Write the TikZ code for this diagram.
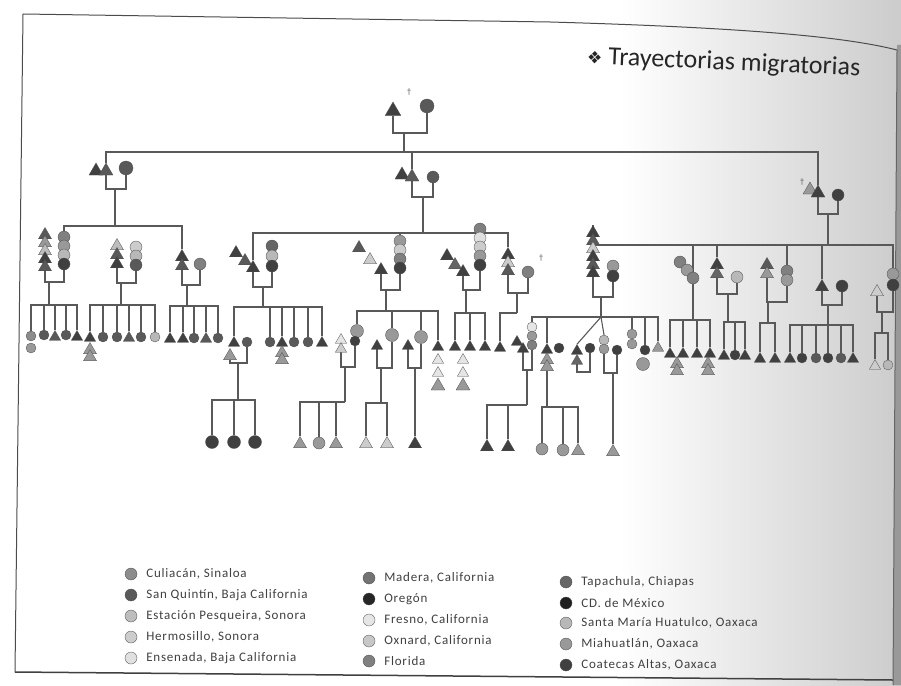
\documentclass[tikz,border=0pt]{standalone}
\usepackage{fontspec}
\setmainfont{Carlito}
\newfontfamily\symfont{DejaVu Sans}
\newfontfamily\keyfont[LetterSpace=6]{Carlito}
\usetikzlibrary{shapes.geometric,positioning,backgrounds}

% colores de los lugares (escala de grises)
\definecolor{cul}{gray}{0.55}
\definecolor{sqn}{gray}{0.35}
\definecolor{epq}{gray}{0.74}
\definecolor{her}{gray}{0.80}
\definecolor{ens}{gray}{0.88}
\definecolor{mad}{gray}{0.45}
\definecolor{ore}{gray}{0.15}
\definecolor{fre}{gray}{0.90}
\definecolor{oxn}{gray}{0.78}
\definecolor{flo}{gray}{0.50}
\definecolor{tap}{gray}{0.40}
\definecolor{cdm}{gray}{0.12}
\definecolor{smh}{gray}{0.72}
\definecolor{mia}{gray}{0.60}
\definecolor{coa}{gray}{0.25}

\tikzset{
  man/.style={regular polygon, regular polygon sides=3, inner sep=0pt, minimum size=13pt, draw=black!70, line width=0.3pt},
  woman/.style={circle, inner sep=0pt, minimum size=10pt, draw=black!70, line width=0.3pt},
  bigman/.style={man, minimum size=16pt},
  bigwoman/.style={woman, minimum size=12pt},
  link/.style={draw=black!65, line width=1.1pt},
  dagger/.style={font=\symfont\fontsize{8}{8}\selectfont, text=black!60, inner sep=0pt},
  key/.style={woman, minimum size=12pt},
  keytext/.style={font=\keyfont\fontsize{13}{15}\selectfont, text=black!75, inner sep=1pt},
}

\begin{document}
\begin{tikzpicture}[x=1pt, y=-1pt]
\useasboundingbox (0,0) rectangle (901,685);

% hoja y marco
\begin{scope}[on background layer]
\fill[white] (0,0) rectangle (901,685);
\shade[left color=white, right color=black!20] (620,0) rectangle (901,685);
\fill[black!40] (897,45) -- (901,45) -- (901,685) -- (893,685) -- cycle;
\draw[black!70, line width=1pt] (23,14) -- (550,22) .. controls (760,28) and (850,38) .. (897,50);
\draw[black!70, line width=1pt] (23,14) -- (15,672);
\draw[black!75, line width=1.5pt] (15,672) -- (893,680);
\draw[black!60, line width=1pt] (897,50) -- (893,685);
\end{scope}

% titulo
\node[font=\fontsize{26}{28}\selectfont, text=black!85, rotate=-2.5, anchor=west, inner sep=0pt] (title) at (587,57) {{\symfont\fontsize{17}{17}\selectfont ❖} Trayectorias migratorias};

% generacion 0
\node[bigman, fill=coa, minimum size=18pt] (g0m) at (393,111) {};
\node[bigwoman, fill=sqn, minimum size=14pt] (g0f) at (427,106) {};
\node[dagger] (g0d) at (409,92) {†};
\coordinate (m0) at (404,133);
\coordinate (s0) at (404,152);

% generacion 1
\node[bigman, fill=coa] (g1La) at (96,171) {};
\node[bigman, fill=sqn] (g1Lb) at (106,171) {};
\node[bigwoman, fill=sqn, minimum size=14pt] (g1Lf) at (126,168) {};
\coordinate (mL) at (115,189);
\coordinate (sL) at (115,226);

\node[bigman, fill=coa] (g1Ma) at (402,175) {};
\node[bigman, fill=sqn] (g1Mb) at (412,177) {};
\node[bigwoman, fill=sqn] (g1Mf) at (433,177) {};
\coordinate (mM) at (423,197);
\coordinate (sM) at (423,233);

\node[bigman, fill=mia] (g1Ra) at (810,190) {};
\node[bigman, fill=coa] (g1Rb) at (818,193) {};
\node[dagger] (g1Rd) at (802,182) {†};
\node[bigwoman, fill=coa] (g1Rf) at (838,195) {};
\coordinate (mR) at (828,214);
\coordinate (sR) at (828,245);

% familia L1
\node[man, minimum size=15pt, fill=sqn] (L1m1) at (45,235) {};
\node[man, minimum size=15pt, fill=mia] (L1m2) at (45,243) {};
\node[man, minimum size=15pt, fill=epq] (L1m3) at (45,251) {};
\node[man, minimum size=15pt, fill=coa] (L1m4) at (45,259) {};
\node[man, minimum size=15pt, fill=sqn] (L1m5) at (45,267) {};
\node[bigwoman, fill=flo] (L1f1) at (64,237) {};
\node[bigwoman, fill=mia] (L1f2) at (64,246) {};
\node[bigwoman, fill=smh] (L1f3) at (64,255) {};
\node[bigwoman, fill=coa] (L1f4) at (64,264) {};
\coordinate (mL1) at (49,282);
\coordinate (sL1) at (49,305);
\node[woman, fill=cul] (L1c1) at (31,336) {};
\node[woman, fill=mia] (L1c1b) at (31,348) {};
\node[woman, fill=sqn] (L1c2) at (44,335) {};
\node[man, fill=sqn] (L1c3) at (55,337) {};
\node[woman, fill=sqn] (L1c4) at (66,335) {};
\node[man, fill=coa] (L1c5) at (77,337) {};

% familia L2
\node[man, minimum size=15pt, fill=epq] (L2m1) at (117,246) {};
\node[man, minimum size=15pt, fill=sqn] (L2m2) at (117,255) {};
\node[man, minimum size=15pt, fill=coa] (L2m3) at (117,264) {};
\node[bigwoman, fill=her] (L2f1) at (136,247) {};
\node[bigwoman, fill=smh] (L2f2) at (136,256) {};
\node[bigwoman, fill=sqn] (L2f3) at (136,265) {};
\coordinate (mL2) at (121,283);
\coordinate (sL2) at (121,305);
\node[man, fill=coa] (L2c1) at (90,338) {};
\node[man, minimum size=15pt, fill=mia] (L2c1b) at (90,350) {};
\node[man, minimum size=15pt, fill=mia] (L2c1c) at (90,357) {};
\node[woman, fill=sqn] (L2c2) at (103,337) {};
\node[woman, fill=sqn] (L2c3) at (117,337) {};
\node[man, fill=sqn] (L2c4) at (129,338) {};
\node[woman, fill=sqn] (L2c5) at (141,337) {};
\node[woman, fill=smh] (L2c6) at (155,337) {};

% familia L3
\node[man, minimum size=15pt, fill=coa] (L3m1) at (182,257) {};
\node[man, minimum size=15pt, fill=sqn] (L3m2) at (182,266) {};
\node[bigwoman, fill=flo] (L3f) at (200,264) {};
\coordinate (mL3) at (187,285);
\coordinate (sL3) at (187,306);
\node[man, fill=coa] (L3c1) at (170,339) {};
\node[man, fill=coa] (L3c2) at (183,339) {};
\node[woman, fill=sqn] (L3c3) at (194,338) {};
\node[man, fill=sqn] (L3c4) at (206,339) {};
\node[woman, fill=sqn] (L3c5) at (218,338) {};

% familia M1
\node[man, minimum size=15pt, fill=coa] (M1m1) at (236,253) {};
\node[man, minimum size=15pt, fill=sqn] (M1m2) at (245,261) {};
\node[man, minimum size=15pt, fill=coa] (M1m3) at (253,268) {};
\node[bigwoman, fill=tap] (M1f1) at (272,246) {};
\node[bigwoman, fill=smh] (M1f2) at (272,256) {};
\node[bigwoman, fill=coa] (M1f3) at (272,266) {};
\coordinate (mM1) at (263,287);
\coordinate (sM1) at (263,307);
\node[man, fill=coa] (M1c1) at (234,343) {};
\node[man, minimum size=15pt, fill=mia] (M1c1b) at (230,356) {};
\node[woman, fill=sqn] (M1c2) at (247,342) {};
\node[woman, fill=sqn] (M1c3) at (270,342) {};
\node[man, fill=coa] (M1c4) at (282,343) {};
\node[man, minimum size=15pt, fill=mia] (M1c4b) at (282,353) {};
\node[man, minimum size=15pt, fill=mia] (M1c4c) at (282,360) {};
\node[woman, fill=sqn] (M1c5) at (294,342) {};
\node[woman, fill=sqn] (M1c6) at (308,342) {};
\node[man, fill=coa] (M1c7) at (322,343) {};
\coordinate (mM1c) at (238,363);
\coordinate (sM1c) at (238,400);
\node[woman, minimum size=13pt, fill=coa] (M1g1) at (212,442) {};
\node[woman, minimum size=13pt, fill=coa] (M1g2) at (234,442) {};
\node[woman, minimum size=13pt, fill=coa] (M1g3) at (255,442) {};

% familia M2
\node[man, minimum size=15pt, fill=sqn] (M2m1) at (359,248) {};
\node[man, minimum size=15pt, fill=her] (M2m2) at (370,260) {};
\node[man, minimum size=15pt, fill=coa] (M2m3) at (381,270) {};
\node[bigwoman, fill=mia] (M2f1) at (400,241) {};
\node[bigwoman, fill=her] (M2f2) at (400,250) {};
\node[bigwoman, fill=flo] (M2f3) at (400,259) {};
\node[bigwoman, fill=coa] (M2f4) at (400,268) {};
\coordinate (mM2) at (386,290);
\coordinate (sM2) at (386,311);
\node[man, fill=fre] (M2s1a) at (341,340) {};
\node[man, fill=her] (M2s1b) at (341,349) {};
\node[woman, minimum size=13pt, fill=mia] (M2c1a) at (357,331) {};
\node[woman, fill=coa] (M2c1b) at (355,341) {};
\coordinate (mM2c1) at (345,367);
\coordinate (sM2c1) at (345,402);
\node[man, minimum size=15pt, fill=mia] (M2g1) at (300,444) {};
\node[woman, minimum size=12pt, fill=mia] (M2g2) at (319,443) {};
\node[man, minimum size=15pt, fill=mia] (M2g3) at (336,444) {};
\node[man, fill=coa] (M2s2) at (377,346) {};
\node[woman, minimum size=13pt, fill=mia] (M2c2) at (392,335) {};
\coordinate (mM2c2) at (381,368);
\coordinate (sM2c2) at (381,403);
\node[man, minimum size=15pt, fill=her] (M2g4) at (366,444) {};
\node[man, minimum size=15pt, fill=her] (M2g5) at (387,444) {};
\node[man, fill=coa] (M2s3) at (408,346) {};
\node[woman, minimum size=13pt, fill=mia] (M2c3) at (421,337) {};
\coordinate (mM2c3) at (415,368);
\node[man, minimum size=15pt, fill=coa] (M2g6) at (415,444) {};
\node[man, fill=coa] (M2c4a) at (438,347) {};
\node[man, fill=fre] (M2c4b) at (438,360) {};
\node[man, fill=fre] (M2c4c) at (438,373) {};
\node[man, minimum size=16pt, fill=mia] (M2c4d) at (438,386) {};

% familia M3
\node[man, minimum size=15pt, fill=coa] (M3m1) at (447,256) {};
\node[man, minimum size=15pt, fill=tap] (M3m2) at (455,265) {};
\node[man, minimum size=15pt, fill=coa] (M3m3) at (463,272) {};
\node[bigwoman, fill=flo] (M3f1) at (480,229) {};
\node[bigwoman, fill=ens] (M3f2) at (480,238) {};
\node[bigwoman, fill=her] (M3f3) at (480,247) {};
\node[bigwoman, fill=mia] (M3f4) at (480,256) {};
\node[bigwoman, fill=coa] (M3f5) at (480,265) {};
\coordinate (mM3) at (466,290);
\coordinate (sM3) at (466,313);
\node[man, fill=coa] (M3c1) at (455,347) {};
\node[man, fill=coa] (M3c2) at (470,347) {};
\node[man, fill=coa] (M3c3) at (485,347) {};
\node[man, fill=fre] (M3c2b) at (463,360) {};
\node[man, fill=fre] (M3c2c) at (463,373) {};
\node[man, minimum size=16pt, fill=mia] (M3c2d) at (463,386) {};

% familia M4
\node[man, minimum size=15pt, fill=coa] (M4m1) at (508,255) {};
\node[man, minimum size=15pt, fill=her] (M4m2) at (508,263) {};
\node[man, minimum size=15pt, fill=sqn] (M4m3) at (508,271) {};
\node[bigwoman, fill=flo] (M4f) at (528,272) {};
\node[dagger] (M4d) at (541,258) {†};
\coordinate (mM4) at (517,293);
\coordinate (sM4) at (517,313);
\node[man, fill=coa] (M4c1) at (500,348) {};

% familia R1
\node[man, minimum size=15pt, fill=coa] (R1m1) at (593,233) {};
\node[man, minimum size=15pt, fill=sqn] (R1m2) at (593,241) {};
\node[man, minimum size=15pt, fill=her] (R1m3) at (593,249) {};
\node[man, minimum size=15pt, fill=coa] (R1m4) at (593,257) {};
\node[man, minimum size=15pt, fill=sqn] (R1m5) at (593,265) {};
\node[man, minimum size=15pt, fill=coa] (R1m6) at (593,273) {};
\node[bigwoman, fill=mia] (R1f1) at (613,266) {};
\node[bigwoman, fill=coa] (R1f2) at (613,276) {};
\coordinate (mR1) at (601,297);
\coordinate (sR1) at (601,317);
\node[man, fill=coa] (R1s1a) at (517,342) {};
\node[man, fill=coa] (R1s1b) at (523,349) {};
\node[woman, fill=fre] (R1c1a) at (532,327) {};
\node[woman, fill=mia] (R1c1b) at (532,336) {};
\node[woman, fill=flo] (R1c1c) at (532,345) {};
\coordinate (mR1c) at (527,370);
\coordinate (sR1c) at (527,405);
\node[man, minimum size=15pt, fill=coa] (R1g1) at (487,447) {};
\node[man, minimum size=15pt, fill=coa] (R1g2) at (508,447) {};
\node[man, fill=coa] (R1c2a) at (547,350) {};
\node[man, minimum size=15pt, fill=mia] (R1c2b) at (547,360) {};
\node[man, minimum size=15pt, fill=mia] (R1c2c) at (547,367) {};
\node[woman, fill=coa] (R1s2) at (559,348) {};
\coordinate (sR1d) at (547,407);
\node[woman, minimum size=12pt, fill=mia] (R1g3) at (542,449) {};
\node[woman, minimum size=12pt, fill=mia] (R1g4) at (563,450) {};
\node[man, minimum size=15pt, fill=mia] (R1g5) at (578,451) {};
\node[man, fill=coa] (R1c3a) at (577,351) {};
\node[man, fill=tap] (R1c3b) at (577,361) {};
\node[woman, fill=coa] (R1s3) at (590,348) {};
\coordinate (mR1e) at (584,372);
\node[woman, fill=smh] (R1c4a) at (604,340) {};
\node[woman, fill=mia] (R1c4b) at (604,349) {};
\node[woman, fill=coa] (R1s4) at (617,350) {};
\coordinate (mR1f) at (613,373);
\node[man, minimum size=15pt, fill=mia] (R1g6) at (613,452) {};
\node[woman, fill=mia] (R1c5a) at (632,334) {};
\node[woman, fill=mia] (R1c5b) at (632,344) {};
\node[woman, fill=coa] (R1c6a) at (645,350) {};
\node[woman, minimum size=13pt, fill=mia] (R1c6b) at (643,364) {};
\node[man, fill=mia] (R1c7) at (658,348) {};

% familia R2
\node[bigwoman, fill=flo] (R2f1) at (680,262) {};
\node[bigwoman, fill=mia] (R2f2) at (687,270) {};
\node[bigwoman, fill=flo] (R2f3) at (693,278) {};
\coordinate (sR2) at (693,320);
\node[man, fill=coa] (R2c1) at (670,354) {};
\node[man, fill=coa] (R2c2) at (683,354) {};
\node[man, fill=coa] (R2c3) at (697,354) {};
\node[man, fill=coa] (R2c4) at (710,354) {};
\node[man, minimum size=15pt, fill=mia] (R2t1a) at (677,364) {};
\node[man, minimum size=15pt, fill=mia] (R2t1b) at (677,371) {};
\node[man, minimum size=15pt, fill=mia] (R2t2a) at (708,364) {};
\node[man, minimum size=15pt, fill=mia] (R2t2b) at (708,371) {};

% familia R3
\node[man, minimum size=15pt, fill=coa] (R3m1) at (717,265) {};
\node[man, minimum size=15pt, fill=tap] (R3m2) at (717,274) {};
\node[bigwoman, fill=smh] (R3f) at (737,277) {};
\coordinate (mR3) at (728,294);
\coordinate (sR3) at (728,322);
\node[man, fill=coa] (R3c1) at (724,356) {};
\node[woman, fill=coa] (R3c2) at (735,355) {};
\node[man, fill=coa] (R3c3) at (745,356) {};

% familia R4
\node[man, minimum size=15pt, fill=sqn] (R4m1) at (767,265) {};
\node[man, minimum size=15pt, fill=mia] (R4m2) at (767,274) {};
\node[bigwoman, fill=flo] (R4f1) at (787,271) {};
\node[bigwoman, fill=mia] (R4f2) at (787,280) {};
\coordinate (mR4) at (768,302);
\coordinate (sR4) at (768,323);
\node[man, fill=coa] (R4c1) at (760,359) {};
\node[man, fill=coa] (R4c2) at (775,359) {};

% familia R5
\node[man, minimum size=15pt, fill=coa] (R5m) at (822,287) {};
\node[bigwoman, fill=coa] (R5f) at (842,286) {};
\coordinate (mR5) at (828,305);
\coordinate (sR5) at (828,325);
\node[man, fill=coa] (R5c1) at (790,359) {};
\node[woman, fill=coa] (R5c2) at (802,358) {};
\node[woman, fill=sqn] (R5c3) at (816,358) {};
\node[woman, fill=coa] (R5c4) at (828,358) {};
\node[woman, fill=sqn] (R5c5) at (841,358) {};
\node[man, fill=coa] (R5c6) at (853,359) {};

% familia R6
\node[man, minimum size=15pt, fill=her] (R6m) at (877,292) {};
\node[bigwoman, fill=mia] (R6f1) at (893,274) {};
\node[bigwoman, fill=coa] (R6f2) at (893,285) {};
\coordinate (mR6) at (882,312);
\coordinate (sR6) at (882,333);
\node[man, fill=her] (R6c1) at (875,366) {};
\node[woman, fill=smh] (R6c2) at (888,365) {};

% lineas de parentesco
\begin{scope}[on background layer]
\draw[link] (g0m.south) |- (m0) -| (g0f.south);
\draw[link] (m0) -- (s0);
\foreach \c in {g1Lb,g1Mb,g1Rb} \draw[link] (\c.north) |- (s0);
\draw[link] (g1Lb.south) |- (mL) -| (g1Lf.south);
\draw[link] (mL) -- (sL);
\draw[link] (g1Mb.south) |- (mM) -| (g1Mf.south);
\draw[link] (mM) -- (sM);
\draw[link] (g1Rb.south) |- (mR) -| (g1Rf.south);
\draw[link] (mR) -- (sR);

\foreach \c in {L1f1,L3m1} \draw[link] (\c.north) |- (sL);
\foreach \c in {M1m3,M2f1,M3f1,M4m1} \draw[link] (\c.north) |- (sM);
\foreach \c in {R1m1,R2f3,R3m1,R4f1,R5m,R6f1} \draw[link] (\c.north) |- (sR);

\draw[link] (L1m5.south) |- (mL1) -| (L1f4.south);
\draw[link] (mL1) -- (sL1);
\foreach \c in {L1c1,L1c2,L1c3,L1c4,L1c5} \draw[link] (\c.north) |- (sL1);
\draw[link] (L2m3.south) |- (mL2) -| (L2f3.south);
\draw[link] (mL2) -- (sL2);
\foreach \c in {L2c1,L2c2,L2c3,L2c4,L2c5,L2c6} \draw[link] (\c.north) |- (sL2);
\draw[link] (L3m2.south) |- (mL3) -| (L3f.south);
\draw[link] (mL3) -- (sL3);
\foreach \c in {L3c1,L3c2,L3c3,L3c4,L3c5} \draw[link] (\c.north) |- (sL3);

\draw[link] (M1m3.south) |- (mM1) -| (M1f3.south);
\draw[link] (mM1) -- (sM1);
\foreach \c in {M1c1,M1c3,M1c4,M1c5,M1c6,M1c7} \draw[link] (\c.north) |- (sM1);
\draw[link] (M1c1b.south) |- (mM1c) -| (M1c2.south);
\draw[link] (mM1c) -- (sM1c);
\foreach \c in {M1g1,M1g2,M1g3} \draw[link] (\c.north) |- (sM1c);

\draw[link] (M2m3.south) |- (mM2) -| (M2f4.south);
\draw[link] (mM2) -- (sM2);
\foreach \c in {M2c1a,M2c2,M2c3,M2c4a} \draw[link] (\c.north) |- (sM2);
\draw[link] (M2s1b.south) |- (mM2c1) -| (M2c1b.south);
\draw[link] (mM2c1) -- (sM2c1);
\foreach \c in {M2g1,M2g2,M2g3} \draw[link] (\c.north) |- (sM2c1);
\draw[link] (M2s2.south) |- (mM2c2) -| (M2c2.south);
\draw[link] (mM2c2) -- (sM2c2);
\foreach \c in {M2g4,M2g5} \draw[link] (\c.north) |- (sM2c2);
\draw[link] (M2s3.south) |- (mM2c3) -| (M2c3.south);
\draw[link] (mM2c3) -- (M2g6.north);

\draw[link] (M3m3.south) |- (mM3) -| (M3f5.south);
\draw[link] (mM3) -- (sM3);
\foreach \c in {M3c1,M3c2,M3c3} \draw[link] (\c.north) |- (sM3);
\draw[link] (M4m3.south) |- (mM4) -| (M4f.south);
\draw[link] (mM4) -- (sM4);
\draw[link] (M4c1.north) |- (sM4);

\draw[link] (R1m6.south) |- (mR1) -| (R1f2.south);
\draw[link] (mR1) -- (sR1);
\foreach \c in {R1c1a,R1c2a,R1c5a,R1c6a,R1c7} \draw[link] (\c.north) |- (sR1);
\draw[link] (sR1) -- (R1c3a.north);
\draw[link] (sR1) -- (R1c4a.north);
\draw[link] (R1s1b.south) |- (mR1c) -| (R1c1c.south);
\draw[link] (mR1c) -- (sR1c);
\foreach \c in {R1g1,R1g2} \draw[link] (\c.north) |- (sR1c);
\draw[link] (R1c2c.south) -- (sR1d);
\foreach \c in {R1g3,R1g4,R1g5} \draw[link] (\c.north) |- (sR1d);
\draw[link] (R1c3b.south) |- (mR1e) -| (R1s3.south);
\draw[link] (R1c4b.south) |- (mR1f) -| (R1s4.south);
\draw[link] (mR1f) -- (R1g6.north);

\draw[link] (R2f3.south) -- (sR2);
\foreach \c in {R2c1,R2c2,R2c3,R2c4} \draw[link] (\c.north) |- (sR2);
\draw[link] (R3m2.south) |- (mR3) -| (R3f.south);
\draw[link] (mR3) -- (sR3);
\foreach \c in {R3c1,R3c2,R3c3} \draw[link] (\c.north) |- (sR3);
\draw[link] (R4m2.south) |- (mR4) -| (R4f2.south);
\draw[link] (mR4) -- (sR4);
\foreach \c in {R4c1,R4c2} \draw[link] (\c.north) |- (sR4);
\draw[link] (R5m.south) |- (mR5) -| (R5f.south);
\draw[link] (mR5) -- (sR5);
\foreach \c in {R5c1,R5c2,R5c3,R5c4,R5c5,R5c6} \draw[link] (\c.north) |- (sR5);
\draw[link] (R6m.south) |- (mR6) -| (R6f2.south);
\draw[link] (mR6) -- (sR6);
\foreach \c in {R6c1,R6c2} \draw[link] (\c.north) |- (sR6);
\end{scope}

% leyenda
\node[key, fill=cul] (k1) at (131,574) {};
\node[keytext, right=8pt of k1] (k1t) {Culiacán, Sinaloa};
\node[key, fill=sqn] (k2) at (131,595) {};
\node[keytext, right=8pt of k2] (k2t) {San Quintín, Baja California};
\node[key, fill=epq] (k3) at (131,616) {};
\node[keytext, right=8pt of k3] (k3t) {Estación Pesqueira, Sonora};
\node[key, fill=her] (k4) at (131,637) {};
\node[keytext, right=8pt of k4] (k4t) {Hermosillo, Sonora};
\node[key, fill=ens] (k5) at (131,658) {};
\node[keytext, right=8pt of k5] (k5t) {Ensenada, Baja California};

\node[key, fill=mad] (k6) at (369,578) {};
\node[keytext, right=8pt of k6] (k6t) {Madera, California};
\node[key, fill=ore] (k7) at (369,599) {};
\node[keytext, right=8pt of k7] (k7t) {Oregón};
\node[key, fill=fre] (k8) at (369,620) {};
\node[keytext, right=8pt of k8] (k8t) {Fresno, California};
\node[key, fill=oxn] (k9) at (369,641) {};
\node[keytext, right=8pt of k9] (k9t) {Oxnard, California};
\node[key, fill=flo] (k10) at (369,661) {};
\node[keytext, right=8pt of k10] (k10t) {Florida};

\node[key, fill=tap] (k11) at (566,582) {};
\node[keytext, right=8pt of k11] (k11t) {Tapachula, Chiapas};
\node[key, fill=cdm] (k12) at (566,603) {};
\node[keytext, right=8pt of k12] (k12t) {CD. de México};
\node[key, fill=smh] (k13) at (566,623) {};
\node[keytext, right=8pt of k13] (k13t) {Santa María Huatulco, Oaxaca};
\node[key, fill=mia] (k14) at (566,644) {};
\node[keytext, right=8pt of k14] (k14t) {Miahuatlán, Oaxaca};
\node[key, fill=coa] (k15) at (566,665) {};
\node[keytext, right=8pt of k15] (k15t) {Coatecas Altas, Oaxaca};

\end{tikzpicture}
\end{document}
